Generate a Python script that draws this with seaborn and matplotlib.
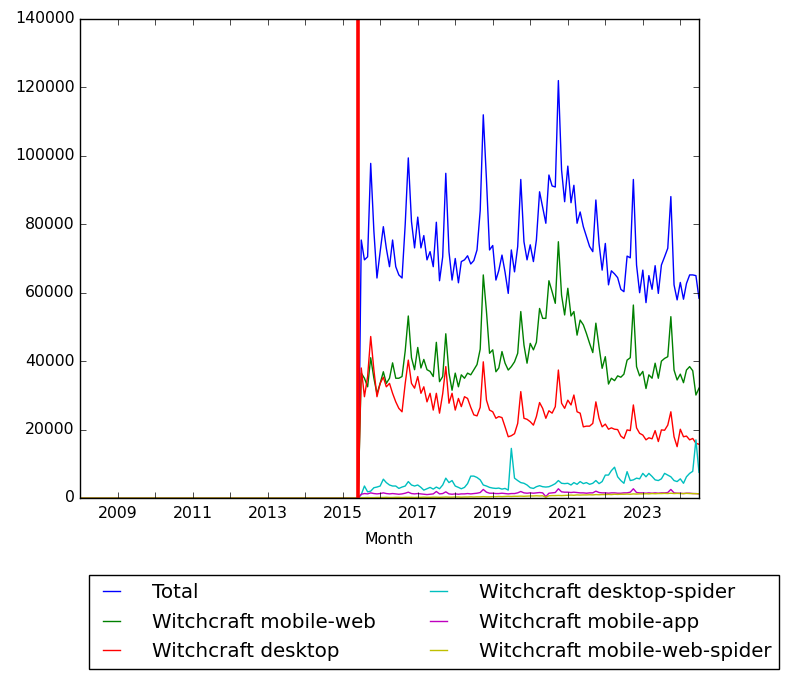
import numpy as np
import pandas as pd
import matplotlib
matplotlib.use("Agg")
import matplotlib.pyplot as plt
import matplotlib.dates as mdates
import matplotlib.ticker as mticker
import seaborn as sns

plt.style.use("classic")
plt.rcParams["font.family"] = ["DejaVu Sans"]

# ---------------- data ----------------
series_names = ["Total", "Witchcraft mobile-web", "Witchcraft desktop",
                "Witchcraft desktop-spider", "Witchcraft mobile-app",
                "Witchcraft mobile-web-spider"]
series_colors = ["b", "g", "r", "c", "m", "y"]

axis_start = "2008-01-01"
data_start = "2015-07-01"
axis_end = "2024-07-01"
marker_date = "2015-06-01"

# monthly values, Jul 2015 .. Jul 2024 (zero before)
total = [
    75400, 69600, 70500, 97800, 78000, 64300,
    72000, 79300, 73000, 67600, 75400, 67600, 65200, 64300, 80000, 99400, 80800, 73100,
    82100, 73100, 76700, 69600, 72000, 67600, 80600, 63500, 70500, 94900, 72000, 63700,
    70000, 62900, 69100, 69600, 70800, 68400, 69400, 72500, 84000, 112000, 93000, 72500,
    73800, 63700, 66500, 71000, 66000, 59800, 72500, 66100, 73500, 93100, 74900, 69600,
    74000, 69100, 75400, 89500, 85000, 80300, 94400, 91200, 90900, 122000, 95900, 86600,
    97000, 86300, 91400, 80300, 83600, 79300, 76400, 73500, 72000, 87100, 74400, 66600,
    74400, 62300, 66400, 65500, 64400, 61000, 60300, 70700, 70200, 93100, 68100, 60000,
    66600, 57100, 65000, 61000, 67900, 59800, 68100, 70500, 73000, 88100, 62300, 57900,
    63000, 58100, 62700, 65200, 65200, 65000, 58400,
]
mobile_web = [
    36500, 35000, 32500, 41000, 35000, 30500,
    33500, 36900, 33500, 35000, 39500, 35000, 35000, 35500, 43000, 53200, 41000, 37500,
    44000, 38000, 40500, 37500, 37000, 35500, 45500, 34000, 35500, 48000, 36500, 31500,
    36500, 32500, 36000, 35000, 36500, 36000, 37500, 39000, 43500, 65200, 54500, 42300,
    43300, 36900, 38000, 42800, 39400, 37400, 38400, 39800, 42300, 54500, 44700, 39400,
    45200, 43300, 45500, 55400, 52500, 52500, 63500, 60300, 56900, 74900, 59300, 53500,
    61300, 53200, 54500, 47600, 52000, 50600, 48100, 45200, 42500, 51100, 44200, 37900,
    41300, 33300, 35000, 34300, 35700, 35300, 36200, 40300, 41000, 56400, 38400, 35700,
    37000, 32000, 36000, 35000, 39400, 35000, 40000, 40800, 41300, 53000, 37400, 34500,
    36200, 33700, 37400, 38400, 37200, 30100, 32100,
]
desktop = [
    38000, 29600, 35500, 47200, 37400, 29600,
    33500, 35300, 32500, 33500, 30600, 28100, 26200, 25200, 33500, 40300, 33500, 32100,
    35500, 30600, 32500, 28100, 30600, 25700, 30600, 24800, 30500, 38400, 27700, 30600,
    25700, 29100, 26700, 29600, 29100, 26500, 24300, 24000, 26500, 39800, 28600, 25700,
    25200, 23300, 23800, 23500, 20800, 17900, 18200, 18800, 21800, 31100, 23300, 23000,
    22300, 21300, 23800, 27900, 26200, 23300, 25500, 24800, 26700, 37400, 27700, 26200,
    28600, 27200, 30100, 25200, 24800, 20800, 21000, 21000, 21800, 28100, 23300, 20800,
    21600, 20100, 20500, 20100, 20000, 18100, 17400, 19900, 19700, 27200, 20500, 18900,
    18400, 17000, 17600, 17300, 19700, 16500, 19900, 19800, 21300, 25200, 17900, 15000,
    20100, 17900, 18100, 17000, 17400, 16000, 15700,
]
desktop_spider = [
    1000, 3500, 1800, 2000, 3000, 3200,
    3500, 5500, 4500, 3800, 3500, 3500, 2800, 3200, 3500, 4800, 3800, 3500,
    3800, 3100, 2300, 2700, 3100, 2600, 3200, 2700, 3800, 5800, 4500, 5100,
    3500, 3100, 2700, 3100, 4200, 6400, 6400, 6000, 5300, 3800, 3500, 3100,
    2900, 2800, 2900, 2600, 2800, 2300, 14500, 5800, 5100, 4500, 4300, 3800,
    3000, 2800, 3300, 3600, 3300, 3200, 3300, 3700, 4200, 5100, 4300, 4200,
    4300, 3800, 4500, 4000, 4800, 4200, 4500, 4000, 4300, 5100, 4200, 4800,
    6700, 6700, 8000, 9000, 6200, 5100, 4300, 7700, 5100, 5300, 5800, 5600,
    7200, 6200, 7200, 6300, 5300, 5100, 5600, 7200, 6700, 6200, 5100, 4800,
    5600, 4300, 6200, 7200, 7800, 17000, 7500,
]
mobile_app = [
    1100, 1300, 1200, 1500, 1300, 1200,
    1300, 1500, 1300, 1200, 1300, 1200, 1100, 1200, 1400, 1700, 1300, 1200,
    1300, 1200, 1100, 1000, 1100, 1200, 1900, 1200, 1300, 1800, 1200, 1100,
    1200, 1100, 1200, 1200, 1300, 1200, 1300, 1400, 1600, 2500, 1700, 1400,
    1400, 1300, 1300, 1400, 1300, 1200, 1300, 1300, 1500, 1900, 1500, 1400,
    1500, 1400, 1500, 1600, 1500, 400, 1400, 1500, 1600, 2700, 1800, 1700,
    1700, 1600, 1700, 1600, 1500, 1500, 1400, 1500, 1500, 2000, 1600, 1500,
    1500, 1400, 1500, 1500, 1400, 1400, 1500, 1500, 1700, 2700, 1600, 1500,
    1500, 1400, 1500, 1400, 1500, 1400, 1500, 1500, 1600, 2500, 1500, 1400,
    1400, 1300, 1400, 1400, 1300, 1300, 1200,
]
mobile_web_spider = [
    100, 100, 150, 100, 100, 150,
    150, 150, 200, 150, 150, 200, 200, 150, 200, 200, 200, 150,
    200, 200, 250, 200, 200, 250, 250, 200, 250, 300, 250, 250,
    300, 300, 250, 300, 300, 350, 300, 350, 350, 400, 350, 350,
    400, 400, 450, 400, 450, 500, 450, 500, 500, 550, 500, 550,
    600, 600, 650, 600, 650, 200, 650, 700, 700, 750, 700, 750,
    800, 850, 800, 900, 850, 900, 900, 950, 900, 1000, 950, 1000,
    1000, 1050, 1000, 1100, 1050, 1100, 1100, 1150, 1100, 1200, 1150, 1200,
    1200, 1250, 1200, 1300, 1250, 1300, 1300, 1350, 1300, 1400, 1300, 1350,
    1300, 1300, 1350, 1300, 1300, 1250, 1250,
]

# ---------------- frame ----------------
all_months = pd.date_range(axis_start, axis_end, freq="MS")
n_pre = int((all_months < pd.Timestamp(data_start)).sum())
values = [total, mobile_web, desktop, desktop_spider, mobile_app, mobile_web_spider]
frames = []
for name, vals in zip(series_names, values):
    frames.append(pd.DataFrame({
        "Month": all_months,
        "Views": [0] * n_pre + list(vals),
        "Series": name,
    }))
df = pd.concat(frames, ignore_index=True)

# ---------------- plot ----------------
W, H = 789, 679
fig = plt.figure(figsize=(W / 100, H / 100), dpi=100, facecolor="white")
ax = fig.add_axes([80 / W, 1 - 498 / H, 619 / W, 479 / H])
ax.set_facecolor("white")

sns.lineplot(data=df, x="Month", y="Views", hue="Series", hue_order=series_names,
             palette=dict(zip(series_names, series_colors)), linewidth=1.0,
             estimator=None, ax=ax, legend=True)
ax.axvline(pd.Timestamp(marker_date), color="r", linewidth=2.6)

ax.set_xlim(pd.Timestamp(axis_start), pd.Timestamp(axis_end))
ax.set_ylim(0, 140000)
ax.yaxis.set_major_locator(mticker.MultipleLocator(20000))
ax.yaxis.set_major_formatter(mticker.FuncFormatter(lambda v, p: f"{int(v)}"))

ax.xaxis.set_major_locator(mdates.YearLocator(1))
ax.xaxis.set_major_formatter(mticker.FuncFormatter(
    lambda v, p: mdates.num2date(v).strftime("%Y") if mdates.num2date(v).year % 2 == 1 else ""))
ax.tick_params(axis="both", which="major", labelsize=11.3, direction="in", length=4,
               top=True, right=True)
ax.tick_params(axis="x", which="major", pad=5.5)
ax.set_xlabel("Month", fontsize=11.3, labelpad=8.5)
ax.set_ylabel("")

handles, labels = ax.get_legend_handles_labels()
if ax.get_legend() is not None:
    ax.get_legend().remove()
leg = ax.legend(handles, labels, ncol=2, loc="upper left",
                bbox_to_anchor=(89 / W, 1 - 575 / H), bbox_transform=fig.transFigure,
                borderaxespad=0, fontsize=14.3, frameon=True, fancybox=False,
                handlelength=1.46, handletextpad=1.3, columnspacing=2.4,
                labelspacing=0.52, borderpad=0.42)
leg.get_frame().set_edgecolor("black")
leg.get_frame().set_linewidth(1.0)
for h in leg.get_lines():
    h.set_linewidth(1.0)

fig.savefig("out.png", dpi=100, facecolor="white")
